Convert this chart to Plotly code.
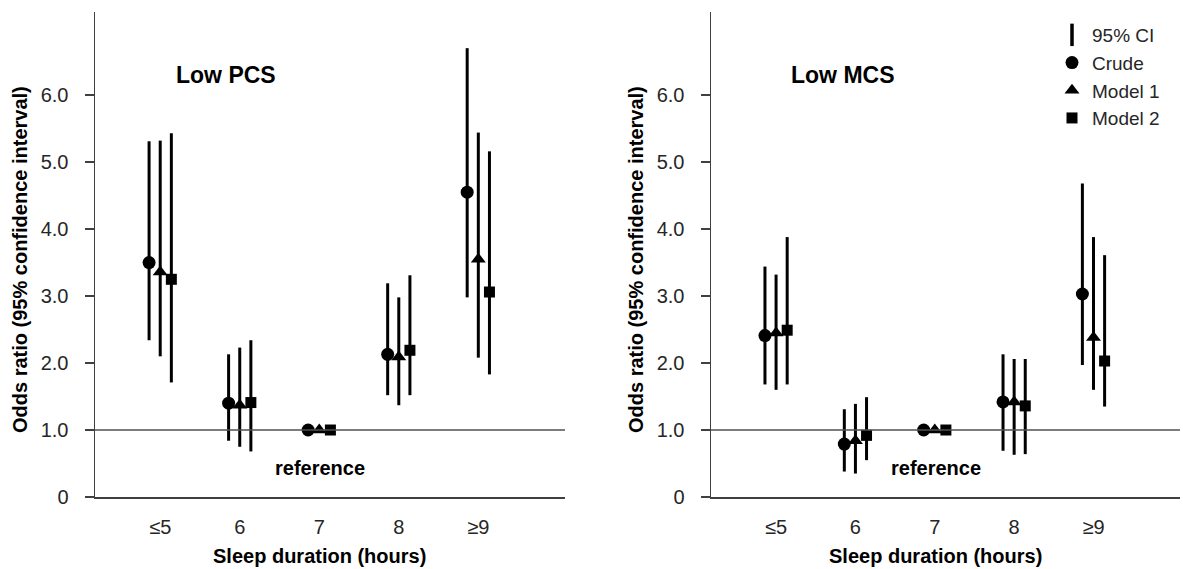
import plotly.graph_objects as go
import numpy as np

W, H = 1183, 569

categories = ["≤5", "6", "7", "8", "≥9"]

# Low PCS
pcs_crude_or = [3.50, 1.40, 1.00, 2.13, 4.55]
pcs_crude_lo = [2.34, 0.84, 1.00, 1.52, 2.98]
pcs_crude_hi = [5.31, 2.13, 1.00, 3.19, 6.70]
pcs_m1_or = [3.36, 1.37, 1.00, 2.09, 3.55]
pcs_m1_lo = [2.10, 0.75, 1.00, 1.37, 2.08]
pcs_m1_hi = [5.32, 2.23, 1.00, 2.98, 5.44]
pcs_m2_or = [3.25, 1.41, 1.00, 2.19, 3.06]
pcs_m2_lo = [1.71, 0.68, 1.00, 1.52, 1.83]
pcs_m2_hi = [5.43, 2.34, 1.00, 3.31, 5.16]

# Low MCS
mcs_crude_or = [2.41, 0.79, 1.00, 1.42, 3.03]
mcs_crude_lo = [1.68, 0.38, 1.00, 0.69, 1.97]
mcs_crude_hi = [3.44, 1.31, 1.00, 2.13, 4.68]
mcs_m1_or = [2.45, 0.84, 1.00, 1.42, 2.38]
mcs_m1_lo = [1.60, 0.35, 1.00, 0.63, 1.60]
mcs_m1_hi = [3.32, 1.39, 1.00, 2.06, 3.88]
mcs_m2_or = [2.49, 0.92, 1.00, 1.36, 2.03]
mcs_m2_lo = [1.68, 0.55, 1.00, 0.64, 1.35]
mcs_m2_hi = [3.88, 1.49, 1.00, 2.06, 3.61]

series_names = ["Crude", "Model 1", "Model 2"]
symbols = ["circle", "triangle-up", "square"]
sizes = [13, 13, 11]
offsets = [-0.14, 0.0, 0.14]

FONT = "Liberation Sans, Arial, sans-serif"
TXT = "#262626"

def px_x(p):
    return p / W

def px_y(p):
    return 1 - p / H

fig = go.Figure()

panels = [
    ("x", "y", [(pcs_crude_or, pcs_crude_lo, pcs_crude_hi),
                (pcs_m1_or, pcs_m1_lo, pcs_m1_hi),
                (pcs_m2_or, pcs_m2_lo, pcs_m2_hi)]),
    ("x2", "y2", [(mcs_crude_or, mcs_crude_lo, mcs_crude_hi),
                  (mcs_m1_or, mcs_m1_lo, mcs_m1_hi),
                  (mcs_m2_or, mcs_m2_lo, mcs_m2_hi)]),
]

# legend entry for CI
fig.add_trace(go.Scatter(
    x=[None], y=[None], mode="markers", name="95% CI",
    marker=dict(symbol="line-ns", size=16, color="black",
                line=dict(width=3.5, color="black")),
    xaxis="x2", yaxis="y2", showlegend=True))

for pi, (xa, ya, data) in enumerate(panels):
    for si, (orv, lo, hi) in enumerate(data):
        xs = np.arange(1, len(categories) + 1) + offsets[si]
        orv = np.array(orv); lo = np.array(lo); hi = np.array(hi)
        fig.add_trace(go.Scatter(
            x=xs, y=orv, mode="markers", name=series_names[si],
            xaxis=xa, yaxis=ya,
            showlegend=(pi == 1),
            marker=dict(symbol=symbols[si], size=sizes[si], color="black"),
            error_y=dict(type="data", symmetric=False,
                         array=hi - orv, arrayminus=orv - lo,
                         color="black", thickness=3, width=0),
        ))

x_dom1 = [px_x(95), px_x(565)]
x_dom2 = [px_x(711), px_x(1180)]
y_dom = [px_y(497), px_y(12)]

axis_common_x = dict(
    range=[0.18, 6.09], tickvals=list(range(1, 6)), ticktext=categories,
    showline=True, linecolor="#404040", linewidth=1.5, ticks="",
    showgrid=False, zeroline=False, ticklabelstandoff=11, automargin=False,
    tickfont=dict(family=FONT, size=20, color=TXT), fixedrange=True)
axis_common_y = dict(
    range=[0, 7.24], tickvals=list(range(0, 7)),
    ticktext=["0", "1.0", "2.0", "3.0", "4.0", "5.0", "6.0"],
    showline=True, linecolor="#404040", linewidth=1.5,
    ticks="outside", ticklen=9, tickwidth=1.5, tickcolor="#404040",
    showgrid=False, zeroline=False, ticklabelstandoff=12, automargin=False,
    tickfont=dict(family=FONT, size=20, color=TXT), fixedrange=True)

fig.update_layout(
    width=W, height=H,
    margin=dict(l=0, r=0, t=0, b=0, pad=0, autoexpand=False),
    paper_bgcolor="white", plot_bgcolor="white",
    xaxis=dict(domain=x_dom1, anchor="y", **axis_common_x),
    yaxis=dict(domain=y_dom, anchor="x", **axis_common_y),
    xaxis2=dict(domain=x_dom2, anchor="y2", **axis_common_x),
    yaxis2=dict(domain=y_dom, anchor="x2", **axis_common_y),
    legend=dict(x=px_x(1052), y=px_y(16), xanchor="left", yanchor="top",
                font=dict(family=FONT, size=19, color=TXT),
                bgcolor="rgba(0,0,0,0)", tracegroupgap=0, itemwidth=30),
    showlegend=True,
)

# reference lines at OR = 1
for xa, ya in [("x", "y"), ("x2", "y2")]:
    fig.add_shape(type="line", xref=f"{xa} domain", yref=ya,
                  x0=0, x1=1, y0=1, y1=1,
                  line=dict(color="#505050", width=1.5))

annots = [
    ("Low PCS", 226, 75, 23, 0),
    ("Low MCS", 843, 75, 23, 0),
    ("reference", 320, 468, 20, 0),
    ("reference", 936, 468, 20, 0),
    ("Sleep duration (hours)", 319, 556, 20, 0),
    ("Sleep duration (hours)", 935, 556, 20, 0),
    ("Odds ratio (95% confidence interval)", 20, 260, 20, -90),
    ("Odds ratio (95% confidence interval)", 636, 260, 20, -90),
]
for text, ax_, ay_, fs, ang in annots:
    fig.add_annotation(text=f"<b>{text}</b>", x=px_x(ax_), y=px_y(ay_),
                       xref="paper", yref="paper", showarrow=False,
                       xanchor="center", yanchor="middle", textangle=ang,
                       font=dict(family=FONT, size=fs, color="black"))

fig.write_html("out.html",
               config={"displayModeBar": False, "staticPlot": True},
               post_script="document.body.style.margin='0';"
                           "document.documentElement.style.overflow='hidden';")
